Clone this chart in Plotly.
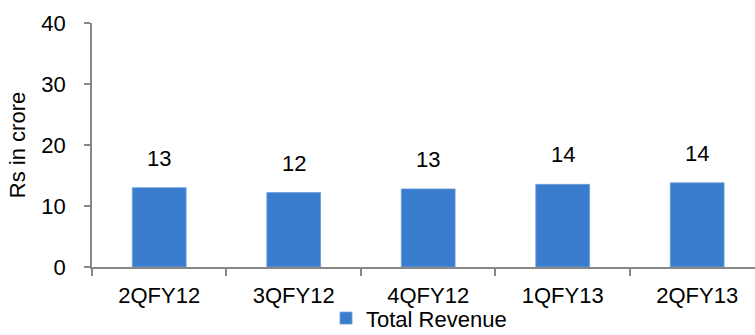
import plotly.graph_objects as go

categories = ["2QFY12", "3QFY12", "4QFY12", "1QFY13", "2QFY13"]
total_revenue = [13.0, 12.2, 12.8, 13.55, 13.8]
y_ticks = [0, 10, 20, 30, 40]
series_name = "Total Revenue"
y_title = "Rs in crore"

BAR = "#3A7DCE"
AXIS = "#878787"
FONT = "Liberation Sans"

fig = go.Figure()
fig.add_trace(go.Bar(
    x=categories, y=total_revenue, name=series_name,
    marker=dict(color=BAR, line=dict(color="#6C9EDB", width=0.8)),
    width=0.4, showlegend=True,
))

for c, v in zip(categories, total_revenue):
    fig.add_annotation(x=c, y=v, text=f"{v:.0f}", showarrow=False,
                       yanchor="bottom", yshift=15,
                       font=dict(family=FONT, size=22, color="black"))

fig.update_layout(
    width=755, height=335,
    margin=dict(l=92, r=0, t=23, b=68, autoexpand=False),
    plot_bgcolor="white", paper_bgcolor="white",
    font=dict(family=FONT, size=22, color="black"),
    showlegend=True,
    legend=dict(orientation="h", x=0.555, xref="container", xanchor="center",
                y=0.05, yref="container", yanchor="middle",
                font=dict(family=FONT, size=22, color="black"),
                itemwidth=30, tracegroupgap=0, bgcolor="rgba(0,0,0,0)"),
    xaxis=dict(
        type="category", range=[-0.5, 4.43], automargin=False,
        showline=True, linecolor=AXIS, linewidth=1.5,
        ticks="outside", ticklen=7, tickcolor=AXIS, tickwidth=1.5,
        tickson="boundaries", ticklabelstandoff=8,
        showgrid=False, zeroline=False,
        tickfont=dict(family=FONT, size=22, color="black"),
    ),
    yaxis=dict(
        range=[0, 40], tickvals=y_ticks, automargin=False,
        showline=True, linecolor=AXIS, linewidth=1.5,
        ticks="outside", ticklen=6, tickcolor=AXIS, tickwidth=1.5,
        ticklabelstandoff=14,
        showgrid=False, zeroline=False,
        tickfont=dict(family=FONT, size=22, color="black"),
        title=dict(text=y_title, standoff=10, font=dict(family=FONT, size=22, color="black")),
    ),
)

fig.write_html("out.html")
